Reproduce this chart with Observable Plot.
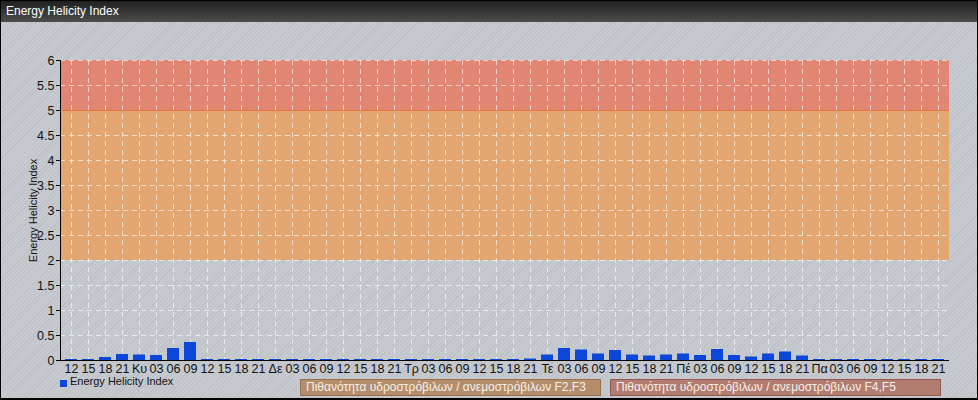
<!DOCTYPE html>
<html><head><meta charset="utf-8">
<script src="https://cdn.jsdelivr.net/npm/d3@7"></script>
<script src="https://cdn.jsdelivr.net/npm/@observablehq/plot@0.6"></script>
<style>
body{margin:0;}
#wrap{position:relative;width:978px;height:400px;overflow:hidden;font-family:"Liberation Sans",Arial,sans-serif;
background:repeating-linear-gradient(135deg,#c7cbd0 0px,#c7cbd0 2px,#bcc1c7 2px,#bcc1c7 3px);}
#title{height:22px;background:linear-gradient(#1e1e1e,#4d4d4d);color:#fff;font-size:12px;line-height:22px;padding-left:6px;box-sizing:border-box;}
#chart svg{display:block}
.frame{position:absolute;left:0;top:0;width:978px;height:400px;box-sizing:border-box;border:1px solid #000;border-bottom-width:2px;pointer-events:none;}
.sq{position:absolute;left:60px;top:380px;width:7px;height:7px;background:#0d47d9;}
.lt{position:absolute;left:70px;top:375px;font-size:11px;color:#111;}
.box{position:absolute;top:379px;height:17px;box-sizing:border-box;font-size:12px;line-height:15px;padding-left:5px;color:#f6f1ea;}
</style></head>
<body>
<div id="wrap">
  <div id="title"></div>
  <div id="chart"></div>
  <div class="sq"></div>
  <div class="lt" id="lt"></div>
  <div class="box" id="b1" style="left:300px;width:301px;background:#b48d6b;border:1px solid #977050;"></div>
  <div class="box" id="b2" style="left:610px;width:331px;background:#b27c70;border:1px solid #925a50;"></div>
  <div class="frame"></div>
</div>
<script>
const titleText = "Energy Helicity Index";
const seriesName = "Energy Helicity Index";
const legendBands = ["Πιθανότητα υδροστρόβιλων / ανεμοστρόβιλων F2,F3", "Πιθανότητα υδροστρόβιλων / ανεμοστρόβιλων F4,F5"];
const labels = ["12","15","18","21",
  "Κυ","03","06","09","12","15","18","21",
  "Δε","03","06","09","12","15","18","21",
  "Τρ","03","06","09","12","15","18","21",
  "Τε","03","06","09","12","15","18","21",
  "Πέ","03","06","09","12","15","18","21",
  "Πα","03","06","09","12","15","18","21"];
const values = [0.02,0.02,0.06,0.12,
  0.11,0.10,0.24,0.36,0.02,0.02,0.02,0.02,
  0.02,0.02,0.02,0.02,0.02,0.02,0.02,0.02,
  0.02,0.02,0.02,0.02,0.02,0.02,0.02,0.03,
  0.11,0.24,0.21,0.13,0.20,0.11,0.09,0.11,
  0.13,0.10,0.22,0.10,0.07,0.13,0.17,0.09,
  0.02,0.02,0.02,0.02,0.02,0.02,0.02,0.02];
const yTicks = [0,0.5,1,1.5,2,2.5,3,3.5,4,4.5,5,5.5,6];
const bandLimits = [2, 5, 6];

document.getElementById("title").textContent = titleText;
document.getElementById("lt").textContent = seriesName;
document.getElementById("b1").textContent = legendBands[0];
document.getElementById("b2").textContent = legendBands[1];

const idx = d3.range(labels.length);
const data = idx.map(i => ({i, v: values[i]}));
const gridStyle = {stroke: "#fff", strokeOpacity: 0.6, strokeDasharray: "5,4"};

const chart = Plot.plot({
  width: 978, height: 354,
  marginLeft: 60, marginRight: 29, marginTop: 38, marginBottom: 16,
  style: {background: "transparent", fontFamily: "'Liberation Sans', Arial, sans-serif", fontSize: "12px", color: "#111"},
  x: {type: "band", domain: idx, paddingInner: 0.3, paddingOuter: 0.15, axis: null},
  y: {domain: [0, 6], axis: null},
  marks: [
    Plot.rect([0], {y1: bandLimits[0], y2: bandLimits[1], fill: "#eb9d5a", fillOpacity: 0.8}),
    Plot.rect([0], {y1: bandLimits[1], y2: bandLimits[2], fill: "#e8765c", fillOpacity: 0.8}),
    Plot.gridY(yTicks.filter(d => d > 0), gridStyle),
    Plot.gridX(idx, gridStyle),
    Plot.ruleY([bandLimits[1]], {stroke: "#e8763e", strokeWidth: 1}),
    Plot.barY(data, {x: "i", y: "v", fill: "#0d47d9"}),
    Plot.ruleY([0], {stroke: "#000"}),
    Plot.frame({anchor: "left", stroke: "#000"}),
    Plot.axisY(yTicks, {tickSize: 4, tickPadding: 2, fontSize: 12.5, stroke: "#000", tickFormat: d => String(d), label: null}),
    Plot.axisX(idx, {tickSize: 0, tickPadding: 4, fontSize: 12.5, tickFormat: i => labels[i], label: null}),
    Plot.text([seriesName], {frameAnchor: "left", dx: -27, rotate: -90, textAnchor: "middle", fontSize: 11, fill: "#111"})
  ]
});
document.getElementById("chart").appendChild(chart);
</script>
</body></html>
